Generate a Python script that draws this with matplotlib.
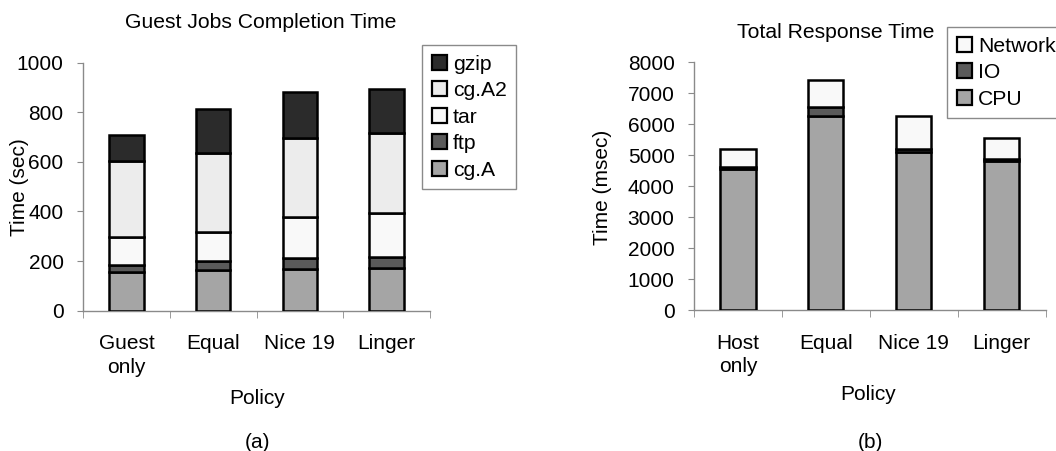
import matplotlib.pyplot as plt
import numpy as np
from matplotlib.patches import Patch

plt.rcParams['font.family'] = ['Liberation Sans', 'DejaVu Sans']
plt.rcParams['font.size'] = 15

# (a) guest jobs completion time, seconds
politicas_a = ['Guest\nonly', 'Equal', 'Nice 19', 'Linger']
cg_a = [157, 164, 170, 172]
ftp = [26, 36, 41, 46]
tar = [115, 117, 168, 175]
cg_a2 = [306, 320, 319, 325]
gzip = [104, 178, 184, 174]

# (b) total response time, milliseconds
politicas_b = ['Host\nonly', 'Equal', 'Nice 19', 'Linger']
cpu = [4550, 6250, 5100, 4810]
io = [70, 300, 110, 70]
network = [570, 890, 1050, 660]

cor_cinza = '#a5a5a5'
cor_escuro = '#5a5a5a'
cor_branco = '#f9f9f9'
cor_claro = '#ececec'
cor_preto = '#2b2b2b'
cor_eixo = '#8a8a8a'

W, H = 1056, 451
fig = plt.figure(figsize=(W / 100, H / 100), dpi=100)


def eixo(ax, ymax, passo, categorias):
    n = len(categorias)
    ax.set_xlim(-0.5, n - 0.5)
    ax.set_ylim(0, ymax)
    ax.set_yticks(np.arange(0, ymax + 1, passo))
    ax.set_xticks(range(n))
    ax.set_xticklabels(categorias, va='top', linespacing=1.3)
    ax.set_xticks(np.arange(-0.5, n, 1.0), minor=True)
    ax.tick_params(axis='x', which='major', length=0, pad=17)
    ax.tick_params(axis='x', which='minor', length=5, color=cor_eixo, direction='out')
    ax.tick_params(axis='y', length=4, color=cor_eixo, direction='out', pad=10)
    for lado in ['top', 'right']:
        ax.spines[lado].set_visible(False)
    for lado in ['left', 'bottom']:
        ax.spines[lado].set_color(cor_eixo)
        ax.spines[lado].set_linewidth(1.0)


def empilhar(ax, series, cores):
    x = np.arange(len(series[0]))
    base = np.zeros(len(x))
    for valores, cor in zip(series, cores):
        ax.bar(x, valores, 0.4, bottom=base, color=cor, edgecolor='black',
               linewidth=1.8, zorder=3)
        base = base + np.array(valores)


def legenda(nomes, cores, x, y):
    alcas = [Patch(facecolor=c, edgecolor='black', linewidth=1.6) for c in cores]
    leg = fig.legend(alcas, nomes, loc='upper left', bbox_to_anchor=(x / W, 1 - y / H),
                     frameon=True, fancybox=False, framealpha=1, edgecolor=cor_eixo,
                     handlelength=0.72, handleheight=0.72, handletextpad=0.3,
                     labelspacing=0.36, borderpad=0.45, borderaxespad=0, fontsize=15.2)
    leg.get_frame().set_linewidth(1.0)


# Gráfico (a)
ax1 = fig.add_axes([83 / W, 1 - 310.7 / H, 347 / W, 248 / H])
eixo(ax1, 1000, 200, politicas_a)
empilhar(ax1, [cg_a, ftp, tar, cg_a2, gzip],
         [cor_cinza, cor_escuro, cor_branco, cor_claro, cor_preto])
legenda(['gzip', 'cg.A2', 'tar', 'ftp', 'cg.A'],
        [cor_preto, cor_claro, cor_branco, cor_escuro, cor_cinza], 422, 45)

# Gráfico (b)
ax2 = fig.add_axes([694 / W, 1 - 310 / H, 351.7 / W, 247.7 / H])
eixo(ax2, 8000, 1000, politicas_b)
empilhar(ax2, [cpu, io, network], [cor_cinza, cor_escuro, cor_branco])
legenda(['Network', 'IO', 'CPU'], [cor_branco, cor_escuro, cor_cinza], 947, 27)

# Títulos e rótulos
fig.text(261 / W, 1 - 23 / H, 'Guest Jobs Completion Time', ha='center', va='center', fontsize=15.2)
fig.text(836 / W, 1 - 32 / H, 'Total Response Time', ha='center', va='center', fontsize=15.2)
fig.text(20 / W, 1 - 187 / H, 'Time (sec)', rotation=90, ha='center', va='center')
fig.text(603 / W, 1 - 187 / H, 'Time (msec)', rotation=90, ha='center', va='center')
fig.text(257 / W, 1 - 399 / H, 'Policy', ha='center', va='center')
fig.text(868 / W, 1 - 395 / H, 'Policy', ha='center', va='center')
fig.text(257 / W, 1 - 442 / H, '(a)', ha='center', va='center', fontsize=15)
fig.text(870 / W, 1 - 442 / H, '(b)', ha='center', va='center', fontsize=15)

plt.savefig('out.png', dpi=100)
